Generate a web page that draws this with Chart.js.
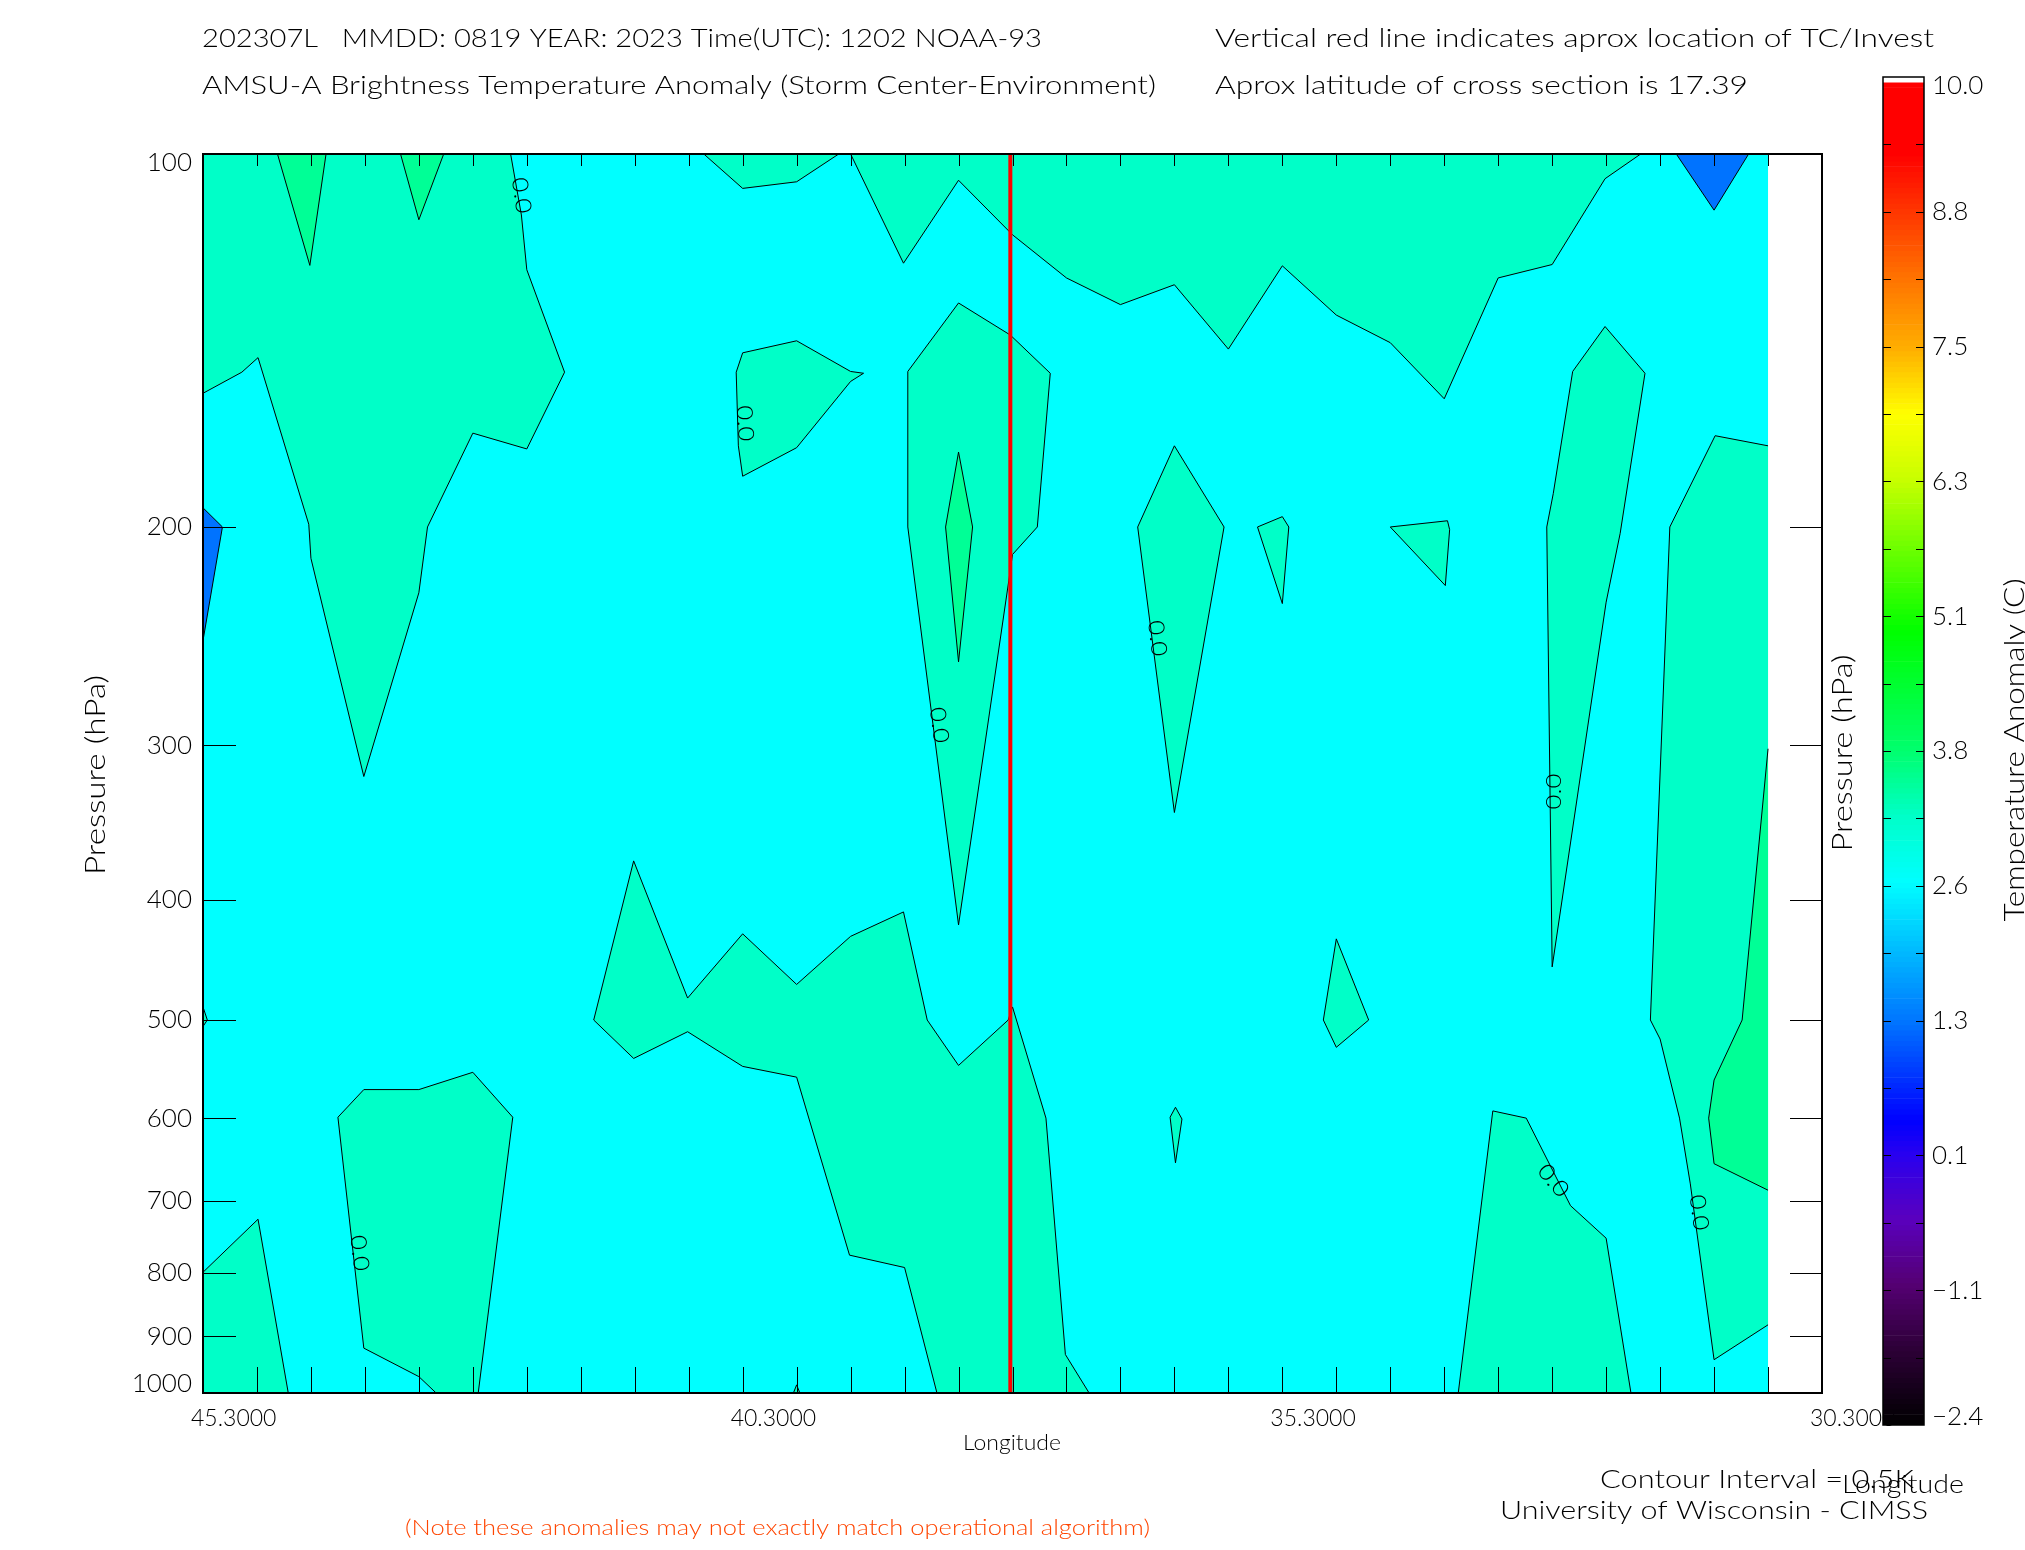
<!DOCTYPE html>
<html>
<head>
<meta charset="utf-8">
<script src="https://cdn.jsdelivr.net/npm/chart.js@4.4.0/dist/chart.umd.min.js"></script>
<style>
  html, body { margin: 0; padding: 0; background: #fff; }
  #wrap { position: relative; width: 2025px; height: 1550px; overflow: hidden; }
  #main { position: absolute; left: 0; top: 0; }
  #cbar { position: absolute; left: 1850px; top: 0; }
</style>
</head>
<body>
<div id="wrap">
  <canvas id="main" width="2025" height="1550"></canvas>
  <canvas id="cbar" width="175" height="1550"></canvas>
</div>
<script>
// cross section extent: longitude (deg) and pressure (hPa)
const lonWest = 45.3, lonEast = 30.3, lonDataEnd = 30.8;
const pTop = 100, pBottom = 1000;
const tcLon = 37.82;
const xLabelTicks = [45.3, 40.3, 35.3, 30.3];
const pressureTicks = [100, 200, 300, 400, 500, 600, 700, 800, 900, 1000];
const lonTickStep = 0.5;

// filled contour regions, [lon, hPa] vertices, grouped by contour level (K)
const level25 = [
  [[45.3, 100], [30.8, 100], [30.8, 1000], [45.3, 1000]]
];
const level30 = [
  [[45.3, 100], [45.3, 156], [44.94, 150], [44.79, 146], [44.32, 199], [44.30, 212], [43.81, 318], [43.30, 226], [43.22, 200], [42.80, 168], [42.30, 173], [41.95, 150], [42.30, 124], [42.35, 112], [42.45, 100]],
  [[45.3, 488], [45.26, 500], [45.3, 506]],
  [[45.3, 799], [44.79, 724], [44.51, 1000], [45.3, 1000]],
  [[44.05, 599], [43.81, 569], [43.30, 569], [42.80, 551], [42.43, 599], [42.75, 1000], [43.14, 1000], [43.30, 970], [43.81, 920]],
  [[41.68, 500], [41.31, 372], [40.81, 480], [40.30, 426], [39.80, 468], [39.30, 428], [38.81, 409], [38.59, 500], [38.30, 544], [37.84, 500], [37.80, 488], [37.49, 600], [37.31, 931], [37.09, 1000], [38.50, 1000], [38.80, 792], [39.31, 774], [39.80, 556], [40.30, 545], [40.81, 511], [41.31, 537]],
  [[40.66, 100], [40.30, 106.6], [39.80, 105.3], [39.41, 100]],
  [[40.36, 150], [40.30, 144.7], [39.80, 141.5], [39.30, 149.8], [39.18, 150.3], [39.30, 152.6], [39.80, 172.6], [40.30, 182], [40.34, 172]],
  [[39.30, 100], [38.81, 122.5], [38.30, 105], [37.80, 116.2], [37.30, 125.9], [36.80, 132.3], [36.30, 127.5], [35.80, 143.7], [35.30, 123.1], [34.80, 134.9], [34.30, 142], [33.80, 157.6], [33.30, 125.9], [32.80, 122.8], [32.31, 104.7], [31.98, 100]],
  [[38.77, 149.8], [38.30, 131.9], [37.82, 140], [37.45, 150.3], [37.57, 200], [37.80, 210.5], [37.83, 219.7], [38.30, 419], [38.77, 200]],
  [[36.64, 200], [36.30, 172], [35.84, 200], [36.30, 340]],
  [[35.53, 200], [35.30, 196.2], [35.24, 200], [35.30, 230.6]],
  [[36.34, 599], [36.29, 588], [36.23, 601], [36.29, 652]],
  [[34.30, 200], [33.77, 197.7], [33.75, 201], [33.79, 223]],
  [[34.80, 430], [34.50, 500], [34.80, 526], [34.92, 500]],
  [[32.61, 149.8], [32.31, 137.8], [31.94, 150.3], [32.17, 202.4], [32.30, 230], [32.80, 453], [32.85, 200], [32.79, 188]],
  [[31.71, 200], [31.29, 168.8], [30.8, 172], [30.8, 881], [31.30, 940], [31.52, 678], [31.62, 600], [31.80, 518], [31.89, 500]],
  [[33.67, 1000], [33.35, 592], [33.04, 600], [32.63, 706], [32.30, 750], [32.07, 1000]],
  [[39.83, 1000], [39.80, 985], [39.77, 1000]]
];
const level35 = [
  [[44.61, 100], [44.31, 123], [44.16, 100]],
  [[43.47, 100], [43.30, 113], [43.07, 100]],
  [[38.30, 174], [38.17, 200], [38.30, 257], [38.42, 200]],
  [[30.8, 302], [31.04, 500], [31.30, 559], [31.35, 600], [31.30, 653], [30.8, 686]]
];
const level15 = [
  [[45.3, 193], [45.12, 200], [45.3, 247]],
  [[31.65, 100], [31.30, 111], [30.98, 100]]
];
// contour label spots: lon, hPa, text angle
const contourLabels = [
  [42.35, 108, 82], [40.28, 165, 87], [38.48, 289, 83], [36.46, 246, 83],
  [32.78, 327, -90], [43.85, 771, 83], [32.79, 674, 50], [31.44, 715, 82]
];

// colour bar
const cbMin = -2.4, cbMax = 10.0, cbCellCount = 256;
const cbTickLabels = ['\u22122.4', '\u22121.1', '0.1', '1.3', '2.6', '3.8', '5.1', '6.3', '7.5', '8.8', '10.0'];

const levelColors = { 1.5: '#0073FF', 2.5: '#00FFFF', 3.0: '#00FFC8', 3.5: '#00FF96' };
const cmapStops = [
  [-2.4, [0, 0, 0]], [-1.7, [45, 0, 55]], [-1.1, [85, 0, 115]], [-0.5, [90, 0, 190]],
  [0.1, [40, 0, 240]], [0.4, [0, 0, 255]], [1.3, [0, 115, 255]], [2.0, [0, 190, 255]],
  [2.6, [0, 255, 255]], [3.2, [0, 255, 200]], [3.8, [0, 255, 110]], [4.9, [0, 255, 0]],
  [6.3, [200, 255, 0]], [6.9, [255, 255, 0]], [7.5, [255, 175, 0]], [8.2, [255, 110, 0]],
  [8.8, [255, 50, 0]], [9.3, [255, 0, 0]], [10.0, [255, 0, 0]]
];
// end labels sit slightly inside the axis ends, as in the original plot
const pEndLabelInset = 0.0073;   // decades
const cbEndLabelInset = 0.075;   // K

const FONT = 'Lato, "Liberation Sans", Arial, sans-serif';
Chart.defaults.font.family = FONT;
Chart.defaults.font.weight = '300';
Chart.defaults.color = '#000';

function cmap(v) {
  for (let i = 1; i < cmapStops.length; i++) {
    const [v1, c1] = cmapStops[i];
    const [v0, c0] = cmapStops[i - 1];
    if (v <= v1) {
      const t = (v - v0) / (v1 - v0);
      const c = c0.map((k, j) => Math.round(k + (c1[j] - k) * t));
      return `rgb(${c[0]},${c[1]},${c[2]})`;
    }
  }
  return 'rgb(255,0,0)';
}

const onEdge = (a, b) =>
  (a[0] === b[0] && (a[0] === lonWest || a[0] === lonDataEnd)) ||
  (a[1] === b[1] && (a[1] === pTop || a[1] === pBottom));

const closeRing = poly => poly.concat([poly[0]]);

function regionFill(poly, color, order) {
  return {
    data: closeRing(poly).map(([x, y]) => ({ x, y })),
    showLine: true, fill: 'shape', backgroundColor: color,
    borderWidth: 0, pointRadius: 0, order
  };
}

function regionOutline(poly) {
  const pts = closeRing(poly);
  return {
    data: pts.map(([x, y]) => ({ x, y })),
    showLine: true, fill: false, borderColor: '#000', borderWidth: 1, pointRadius: 0, order: 10,
    segment: {
      borderColor: c => onEdge(pts[c.p0DataIndex], pts[c.p1DataIndex]) ? 'rgba(0,0,0,0)' : undefined
    }
  };
}

const datasets = [];
level25.forEach(p => datasets.push(regionFill(p, levelColors[2.5], 40)));
level30.forEach(p => datasets.push(regionFill(p, levelColors[3.0], 30)));
level35.forEach(p => datasets.push(regionFill(p, levelColors[3.5], 20)));
level15.forEach(p => datasets.push(regionFill(p, levelColors[1.5], 20)));
[...level30, ...level35, ...level15].forEach(p => datasets.push(regionOutline(p)));
datasets.push({
  data: [{ x: tcLon, y: pTop }, { x: tcLon, y: pBottom }],
  showLine: true, fill: false, borderColor: '#FF0000', borderWidth: 4, pointRadius: 0, order: 0
});

function putText(ctx, str, x, y, o) {
  ctx.save();
  ctx.font = `300 ${o.size}px ${FONT}`;
  ctx.fillStyle = o.color || '#000';
  ctx.textBaseline = o.baseline || 'alphabetic';
  ctx.textAlign = 'left';
  ctx.translate(x, y);
  if (o.rot) ctx.rotate(o.rot);
  const w = ctx.measureText(str).width;
  const sx = o.width ? o.width / w : 1;
  ctx.scale(sx, 1);
  const align = o.align || 'left';
  const x0 = align === 'left' ? 0 : align === 'right' ? -w : -w / 2;
  ctx.fillText(str, x0, 0);
  ctx.restore();
}

const crossSectionDecor = {
  id: 'crossSectionDecor',
  afterDatasetsDraw(chart) {
    const { ctx, chartArea: a, scales: { x, y } } = chart;
    ctx.save();
    contourLabels.forEach(([lon, p, ang]) => {
      putText(ctx, '0.0', x.getPixelForValue(lon), y.getPixelForValue(p),
        { size: 22, width: 36, rot: ang * Math.PI / 180, align: 'center', baseline: 'middle' });
    });
    ctx.strokeStyle = '#000';
    ctx.lineWidth = 1;
    ctx.beginPath();
    pressureTicks.slice(1, -1).forEach(p => {
      const py = Math.round(y.getPixelForValue(p)) + 0.5;
      ctx.moveTo(a.left, py); ctx.lineTo(a.left + 33, py);
      ctx.moveTo(a.right - 32, py); ctx.lineTo(a.right, py);
    });
    for (let lon = lonWest - lonTickStep; lon > lonEast + 1e-6; lon -= lonTickStep) {
      const px = Math.round(x.getPixelForValue(lon)) + 0.5;
      ctx.moveTo(px, a.bottom); ctx.lineTo(px, a.bottom - 26);
      ctx.moveTo(px, a.top); ctx.lineTo(px, a.top + 12);
    }
    ctx.stroke();
    ctx.lineWidth = 2;
    ctx.strokeRect(a.left, a.top, a.right - a.left, a.bottom - a.top);
    ctx.restore();
  },
  afterDraw(chart) {
    const ctx = chart.ctx;
    putText(ctx, '202307L   MMDD: 0819 YEAR: 2023 Time(UTC): 1202 NOAA-93', 202, 47, { size: 25, width: 840 });
    putText(ctx, 'AMSU-A Brightness Temperature Anomaly (Storm Center-Environment)', 202, 94, { size: 25, width: 954 });
    putText(ctx, 'Vertical red line indicates aprox location of TC/Invest', 1215, 47, { size: 25, width: 719 });
    putText(ctx, 'Aprox latitude of cross section is 17.39', 1215, 94, { size: 25, width: 533 });
    putText(ctx, 'Pressure (hPa)', 96, 775, { size: 27, width: 200, rot: -Math.PI / 2, align: 'center', baseline: 'middle' });
    putText(ctx, 'Pressure (hPa)', 1843, 753, { size: 27, width: 197, rot: -Math.PI / 2, align: 'center', baseline: 'middle' });
    putText(ctx, 'Longitude', 1012, 1450, { size: 21, width: 98, align: 'center' });
    putText(ctx, 'Contour Interval = 0.5K', 1600, 1488, { size: 26, width: 314 });
    putText(ctx, 'Longitude', 1903, 1493, { size: 26, width: 122, align: 'center' });
    putText(ctx, 'University of Wisconsin - CIMSS', 1500, 1519, { size: 26, width: 428 });
    putText(ctx, '(Note these anomalies may not exactly match operational algorithm)', 405, 1535,
      { size: 21, width: 745, color: '#FF4500' });
  }
};

new Chart(document.getElementById('main'), {
  type: 'scatter',
  data: { datasets },
  options: {
    responsive: false,
    animation: false,
    events: [],
    layout: { padding: { left: 0, top: 154, right: 203, bottom: 0 } },
    plugins: { legend: { display: false }, tooltip: { enabled: false } },
    scales: {
      x: {
        type: 'linear', min: lonEast, max: lonWest, reverse: true,
        afterBuildTicks: s => { s.ticks = xLabelTicks.map(v => ({ value: v })); },
        afterFit: s => { s.height = 157; },
        grid: { display: false, drawTicks: false },
        border: { display: false },
        ticks: {
          autoSkip: false, maxRotation: 0, minRotation: 0, align: 'start', labelOffset: -12,
          padding: 12, font: { size: 23 }, callback: v => Number(v).toFixed(4)
        }
      },
      y: {
        type: 'logarithmic', min: pTop, max: pBottom, reverse: true,
        afterBuildTicks: s => {
          const k = Math.pow(10, pEndLabelInset);
          s.ticks = pressureTicks.map((v, i) => ({
            value: i === 0 ? v * k : i === pressureTicks.length - 1 ? v / k : v
          }));
        },
        afterFit: s => { s.width = 203; },
        grid: { display: false, drawTicks: false },
        border: { display: false },
        ticks: { autoSkip: false, padding: 11, font: { size: 26 }, callback: (v, i) => String(pressureTicks[i]) }
      }
    }
  },
  plugins: [crossSectionDecor]
});

// colour bar
const cbCellValues = [];
for (let i = 0; i < cbCellCount; i++) cbCellValues.push(cbMin + (i + 0.5) * (cbMax - cbMin) / cbCellCount);
const cbColors = cbCellValues.map((v, i) => i === cbCellCount - 1 ? '#FFFFFF' : cmap(v));
const cbStep = (cbMax - cbMin) / (cbTickLabels.length - 1);

const colorBarDecor = {
  id: 'colorBarDecor',
  afterDatasetsDraw(chart) {
    const { ctx, chartArea: a } = chart;
    const v = chart.scales.v;
    ctx.save();
    ctx.strokeStyle = '#000';
    ctx.lineWidth = 1;
    ctx.beginPath();
    for (let i = 1; i < (cbTickLabels.length - 1) * 2; i++) {
      const py = Math.round(v.getPixelForValue(cbMin + i * cbStep / 2)) + 0.5;
      ctx.moveTo(a.left, py); ctx.lineTo(a.left + 8, py);
      ctx.moveTo(a.right - 8, py); ctx.lineTo(a.right, py);
    }
    ctx.stroke();
    ctx.lineWidth = 1.5;
    ctx.strokeRect(a.left, a.top, a.right - a.left, a.bottom - a.top);
    ctx.restore();
  },
  afterDraw(chart) {
    putText(chart.ctx, 'Temperature Anomaly (C)', 174, 750, { size: 27, width: 343, rot: -Math.PI / 2, align: 'center' });
  }
};

new Chart(document.getElementById('cbar'), {
  type: 'bar',
  data: {
    labels: cbCellValues.map(v => v.toFixed(3)),
    datasets: [{
      data: cbCellValues.map(() => [0, 1]),
      backgroundColor: cbColors,
      borderWidth: 0,
      barPercentage: 1,
      categoryPercentage: 1
    }]
  },
  options: {
    indexAxis: 'y',
    responsive: false,
    animation: false,
    events: [],
    layout: { padding: { left: 33, top: 77, right: 2, bottom: 125 } },
    plugins: { legend: { display: false }, tooltip: { enabled: false } },
    scales: {
      y: { type: 'category', display: false, reverse: true },
      x: { type: 'linear', display: false, min: 0, max: 1 },
      v: {
        type: 'linear', axis: 'y', position: 'right', min: cbMin, max: cbMax, offset: false,
        afterBuildTicks: s => {
          const n = cbTickLabels.length - 1;
          s.ticks = cbTickLabels.map((_, i) => ({
            value: cbMin + i * cbStep + (i === 0 ? cbEndLabelInset : i === n ? -cbEndLabelInset : 0)
          }));
        },
        afterFit: s => { s.width = 99; },
        grid: { display: false, drawTicks: false, offset: false },
        border: { display: false },
        ticks: { autoSkip: false, padding: 8, font: { size: 26 }, callback: (val, i) => cbTickLabels[i] }
      }
    }
  },
  plugins: [colorBarDecor]
});
</script>
</body>
</html>
